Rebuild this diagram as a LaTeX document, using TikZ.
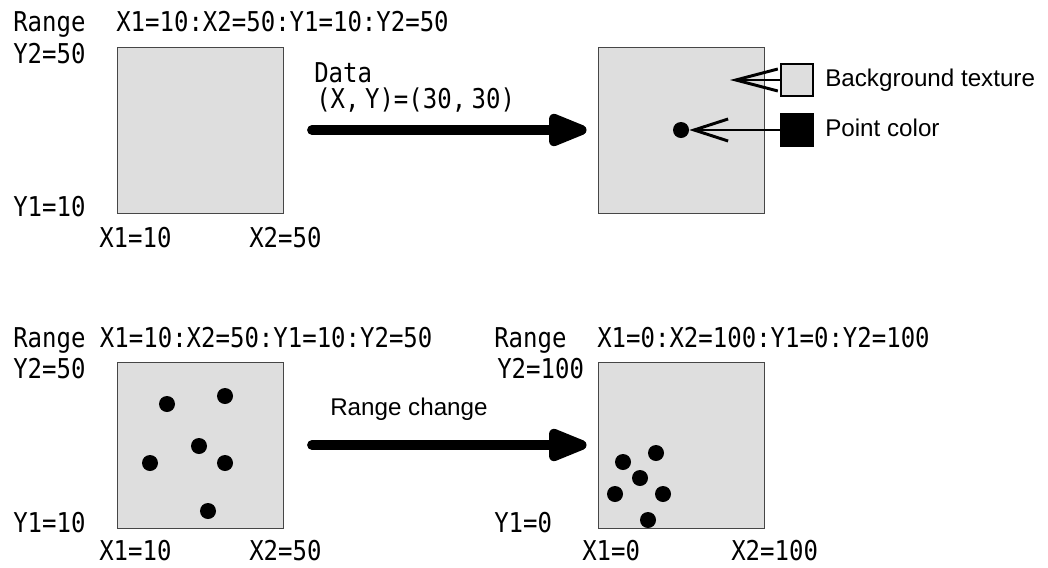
\documentclass[tikz,border=0pt]{standalone}
\usepackage{fontspec}
\usepackage{tikz}
\usetikzlibrary{positioning, arrows.meta}
\setsansfont{Liberation Sans}
\newfontfamily\gothicmono[FakeStretch=0.88]{DejaVu Sans Mono}
\definecolor{PlotGray}{RGB}{222,222,222}
\definecolor{FrameGray}{RGB}{70,70,70}
\tikzset{
  plotbox/.style={draw=FrameGray, line width=0.6pt, fill=PlotGray, minimum width=4.15cm,
    minimum height=4.15cm, inner sep=0pt},
  datadot/.style={circle, fill=black, minimum size=0.4cm, inner sep=0pt},
  lbl/.style={anchor=base west, inner sep=0pt, font=\gothicmono\fontsize{19.4}{22}\selectfont},
  sanslbl/.style={anchor=base west, inner sep=0pt, font=\sffamily\fontsize{17.2}{20}\selectfont},
  bigarr/.style={-{Triangle[length=1.175cm, width=0.85cm, round]}, line width=7pt, line cap=round},
  legarr/.style={-{Straight Barb[length=#1, width=0.55cm]}, line width=2.1pt},
  legarr/.default=1.05cm,
  swatch/.style={draw=black, line width=2.1pt, minimum size=0.8cm, inner sep=0pt},
}

\begin{document}
\begin{tikzpicture}[x=0.025cm, y=-0.025cm]
  \useasboundingbox (0,0) rectangle (1048,567);
  % data point added to a plot
  \node[lbl] (rngA) at (13,31) {Range};
  \node[lbl] (rngAval) at (116,31) {X1=10:X2=50:Y1=10:Y2=50};
  \node[lbl] (yA2) at (13,63) {Y2=50};
  \node[lbl] (yA1) at (13,216) {Y1=10};
  \node[lbl] (xA1) at (99,247) {X1=10};
  \node[lbl] (xA2) at (249,247) {X2=50};
  \node[plotbox] (plotA) at (200,130) {};
  \node[plotbox] (plotB) at (681,130) {};
  \node[lbl] (datalbl) at (314,82) {Data};
  \node[lbl] (datavals) at (316,108) {\spaceskip=.2em (X, Y)=(30, 30)};
  \coordinate (arrAs) at (312,130);
  \draw[bigarr, shorten >=0.275cm] (arrAs) -- (plotB);
  \node[datadot] (pdot) at (681,130) {};
  \node[swatch, fill=PlotGray] (bgsw) at (797,80) {};
  \node[swatch, fill=black] (ptsw) at (797,130) {};
  \node[sanslbl] (bglbl) at (825,86) {Background texture};
  \node[sanslbl] (ptlbl) at (825,136) {Point color};
  \coordinate (bgtip) at (730,80);
  \draw[legarr] (bgsw) -- (bgtip);
  \draw[legarr=0.85cm] (ptsw) -- (pdot);
  % range change of the same points
  \node[lbl] (rngC) at (13,347) {Range X1=10:X2=50:Y1=10:Y2=50};
  \node[lbl] (yC2) at (13,378) {Y2=50};
  \node[lbl] (yC1) at (13,532) {Y1=10};
  \node[lbl] (xC1) at (99,560) {X1=10};
  \node[lbl] (xC2) at (249,560) {X2=50};
  \node[plotbox] (plotC) at (200,445) {};
  \node[plotbox] (plotD) at (681,445) {};
  \foreach \x/\y [count=\i] in {167/404, 225/396, 199/446, 150/463, 225/463, 208/511}
    \node[datadot] (c\i) at (\x,\y) {};
  \foreach \x/\y [count=\i] in {623/462, 656/453, 640/478, 615/494, 663/494, 648/520}
    \node[datadot] (d\i) at (\x,\y) {};
  \node[sanslbl] (chglbl) at (330,415) {Range change};
  \coordinate (arrCs) at (312,445);
  \draw[bigarr, shorten >=0.275cm] (arrCs) -- (plotD);
  \node[lbl] (rngD) at (494,347) {Range};
  \node[lbl] (rngDval) at (597,347) {X1=0:X2=100:Y1=0:Y2=100};
  \node[lbl] (yD2) at (497,378) {Y2=100};
  \node[lbl] (yD1) at (494,532) {Y1=0};
  \node[lbl] (xD1) at (582,560) {X1=0};
  \node[lbl] (xD2) at (731,560) {X2=100};
\end{tikzpicture}
\end{document}
